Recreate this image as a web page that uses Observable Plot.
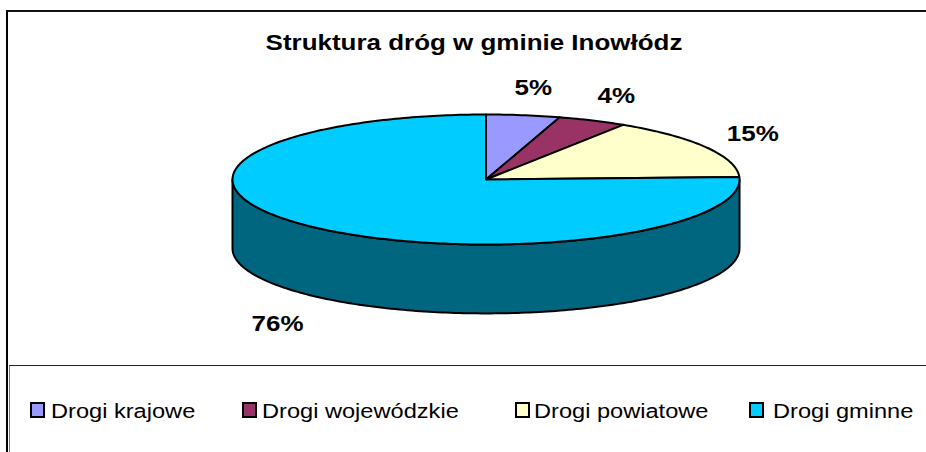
<!DOCTYPE html>
<html><head><meta charset="utf-8">
<script src="https://cdn.jsdelivr.net/npm/d3@7"></script>
<script src="https://cdn.jsdelivr.net/npm/@observablehq/plot@0.6"></script>
<style>
html,body{margin:0;padding:0;background:#fff;overflow:hidden;}
#wrap{position:relative;width:926px;height:452px;overflow:hidden;font-family:"Liberation Sans",Arial,sans-serif;background:#fff;}
#frame{position:absolute;left:6px;top:10px;width:1000px;height:1000px;border-left:2px solid #000;border-top:2px solid #111;box-sizing:border-box;}
#legbox{position:absolute;left:9px;top:365px;width:1000px;height:200px;border-top:1.5px solid #222;border-left:1px solid #777;box-sizing:border-box;}
#title{position:absolute;left:11px;top:32px;width:926px;height:22px;line-height:22px;font-size:22px;font-weight:bold;text-align:center;color:#000;transform:scaleX(1.18);transform-origin:center;white-space:nowrap;}
#chart{position:absolute;left:0;top:0;}
.sw{position:absolute;top:402px;width:15px;height:16px;border:2px solid #000;box-sizing:border-box;}
.lbl{position:absolute;top:401px;height:20px;line-height:20px;font-size:20px;color:#000;white-space:nowrap;transform:scaleX(1.18);transform-origin:left center;}
</style>
</head><body>
<div id="wrap">
  <div id="frame"></div>
  <div id="legbox"></div>
  <div id="title">Struktura dróg w gminie Inowłódz</div>
  <div id="chart"></div>
  <div id="legend"></div>
</div>
<script>
const categories = ["Drogi krajowe", "Drogi wojewódzkie", "Drogi powiatowe", "Drogi gminne"];
const shares = [4.7, 4.4, 15.3, 75.6];
const pctLabels = ["5%", "4%", "15%", "76%"];
const topColors = ["#9999FF", "#993366", "#FFFFCC", "#00CCFF"];
const sideColors = ["#4D4D80", "#4D1A33", "#808066", "#006680"];

const depth = 1.06;
const total = d3.sum(shares);
const rad = d => d * Math.PI / 180;
let acc = 0;
const slices = shares.map((v, i) => {
  const a0 = acc / total * 360; acc += v;
  return {i, a0, a1: acc / total * 360};
});

const topPts = [], sidePts = [], labelPts = [];
for (const s of slices) {
  topPts.push({k: s.i, x: 0, y: 0, c: topColors[s.i]});
  const n = Math.max(2, Math.ceil(s.a1 - s.a0));
  for (let j = 0; j <= n; j++) {
    const a = rad(s.a0 + (s.a1 - s.a0) * j / n);
    topPts.push({k: s.i, x: Math.sin(a), y: -Math.cos(a), c: topColors[s.i]});
  }
  const b0 = Math.max(s.a0, 90), b1 = Math.min(s.a1, 270);
  if (b1 > b0) {
    const m = Math.max(2, Math.ceil(b1 - b0));
    for (let j = 0; j <= m; j++) {
      const a = rad(b0 + (b1 - b0) * j / m);
      sidePts.push({k: s.i, x: Math.sin(a), y: -Math.cos(a), c: sideColors[s.i]});
    }
    for (let j = m; j >= 0; j--) {
      const a = rad(b0 + (b1 - b0) * j / m);
      sidePts.push({k: s.i, x: Math.sin(a), y: -Math.cos(a) + depth, c: sideColors[s.i]});
    }
  }
  const mid = rad((s.a0 + s.a1) / 2);
  const cy = Math.cos(mid);
  labelPts.push({x: 1.2 * Math.sin(mid) + 0.01, y: -1.43 * cy + 0.12 + (cy < 0 ? depth + 0.12 : 0), t: pctLabels[s.i]});
}

const plot = Plot.plot({
  width: 926, height: 452, margin: 0,
  x: {domain: [-1, 1], range: [232, 739], axis: null},
  y: {domain: [-1, 1], range: [114, 244], axis: null},
  color: {type: "identity"},
  style: {background: "none", overflow: "visible"},
  marks: [
    Plot.line(sidePts, {x: "x", y: "y", z: "k", fill: "c", stroke: "#000", strokeWidth: 2, curve: "linear-closed", strokeLinejoin: "round"}),
    Plot.line(topPts, {x: "x", y: "y", z: "k", fill: "c", stroke: "#000", strokeWidth: 2, curve: "linear-closed", strokeLinejoin: "round"}),
    Plot.text(labelPts, {x: "x", y: "y", text: "t", fontSize: 22, fontWeight: "bold", fontFamily: "Liberation Sans, Arial, sans-serif", fill: "#000"})
  ]
});
document.getElementById("chart").appendChild(plot);

// stretch percentage labels horizontally like the original rendering
for (const t of plot.querySelectorAll("text")) {
  if (!/%/.test(t.textContent)) continue;
  const x = +t.getAttribute("x") || 0, y = +t.getAttribute("y") || 0;
  const tr = t.getAttribute("transform") || "";
  t.setAttribute("x", 0); t.setAttribute("y", 0);
  t.setAttribute("transform", `${tr} translate(${x},${y}) scale(1.18,1)`);
}

const legendLeft = [30, 242, 515, 749];
const legendText = [51, 262, 534, 773];
const leg = document.getElementById("legend");
categories.forEach((c, i) => {
  const sw = document.createElement("div");
  sw.className = "sw"; sw.style.left = legendLeft[i] + "px"; sw.style.background = topColors[i];
  leg.appendChild(sw);
  const l = document.createElement("div");
  l.className = "lbl"; l.style.left = legendText[i] + "px"; l.textContent = c;
  leg.appendChild(l);
});
</script>
</body></html>
